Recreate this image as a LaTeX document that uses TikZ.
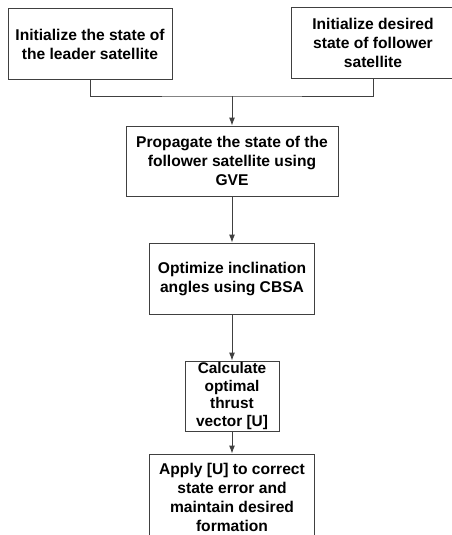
\documentclass[tikz,border=0pt]{standalone}
\usepackage{fontspec}
\setmainfont{Liberation Sans}
\usepackage{tikz}
\usetikzlibrary{arrows.meta}

\begin{document}
\begin{tikzpicture}[x=1pt, y=-1pt, >={Latex[length=8pt, width=6pt]},
    stepbox/.style={draw=black!75, line width=0.9pt, align=center, inner sep=0pt,
        font=\fontsize{15.6}{19}\selectfont\bfseries},
    flow/.style={draw=black!75, line width=0.9pt}]
            % Canvas
            \useasboundingbox (0,0) rectangle (452,535);
            \clip (0,0) rectangle (452,535);

            % Initial states
            \node[stepbox, minimum width=164pt, minimum height=71pt] (lead) at (90,44)
                {Initialize the state of\\the leader satellite};
            \node[stepbox, minimum width=164pt, minimum height=71pt] (foll) at (373,42.5)
                {Initialize desired\\state of follower\\satellite};

            % Main column
            \node[stepbox, minimum width=212pt, minimum height=70pt] (prop) at (232,161)
                {Propagate the state of the\\follower satellite using\\GVE};
            \node[stepbox, minimum width=165pt, minimum height=71pt] (opt) at (232,278.5)
                {Optimize inclination\\angles using CBSA};
            \node[stepbox, minimum width=94pt, minimum height=70pt,
                font=\fontsize{15.4}{17.4}\selectfont\bfseries] (calc) at (232,396)
                {Calculate\\optimal\\thrust\\vector [U]};
            \node[stepbox, minimum width=165pt, minimum height=86pt] (apply) at (232,497)
                {Apply [U] to correct\\state error and\\maintain desired\\formation};

            % Connectors
            \coordinate (join) at (232,96);
            \draw[flow] (lead.south) |- (join) -| (foll.south);
            \draw[flow, ->] (join) -- (prop.north);
            \draw[flow, ->] (prop.south) -- (opt.north);
            \draw[flow, ->] (opt.south) -- (calc.north);
            \draw[flow, ->] (calc.south) -- (apply.north);
        \end{tikzpicture}
\end{document}
